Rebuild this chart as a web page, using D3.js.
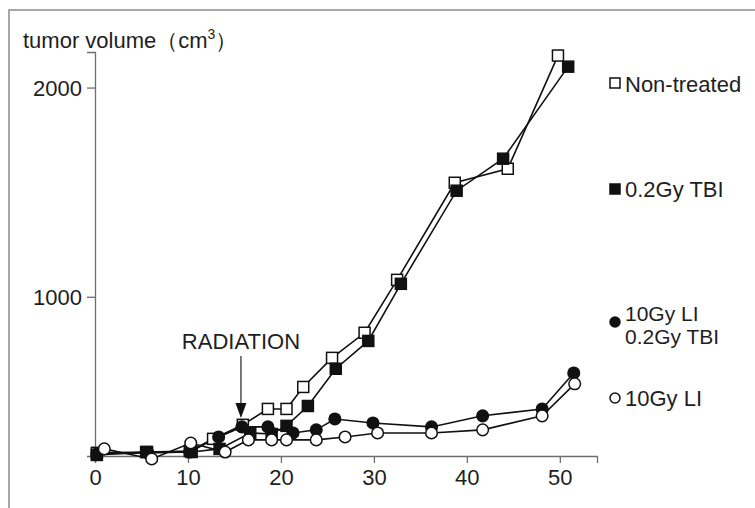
<!DOCTYPE html>
<html><head><meta charset="utf-8">
<script src="https://cdn.jsdelivr.net/npm/d3@7"></script>
<style>
html,body{margin:0;padding:0;background:#fff;}
svg{display:block;font-family:"Liberation Sans",Arial,Helvetica,sans-serif;}
</style></head>
<body>
<svg id="c" width="755" height="508"></svg>
<script>
// ---- data (day, tumor volume cm^3) ----
const nonTreatedDays = [0.2, 5.6, 10.2, 12.7, 15.9, 18.6, 20.6, 22.4, 25.5, 29.0, 32.5, 38.7, 44.4, 49.8];
const nonTreatedVals = [254, 258, 263, 321, 388, 464, 464, 569, 708, 828, 1081, 1545, 1612, 2153];

const tbiDays = [0.2, 5.5, 10.4, 13.4, 16.7, 19.0, 20.6, 22.9, 25.9, 29.4, 32.9, 38.9, 43.9, 50.9];
const tbiVals = [244, 258, 258, 273, 349, 344, 383, 478, 656, 789, 1062, 1507, 1660, 2100];

const liTbiDays = [0.2, 5.7, 10.2, 13.3, 15.8, 18.6, 21.3, 23.8, 25.8, 29.9, 36.2, 41.7, 48.1, 51.5];
const liTbiVals = [249, 254, 258, 330, 378, 378, 349, 364, 416, 397, 378, 431, 464, 636];

const liDays = [1.0, 6.1, 10.3, 14.0, 16.5, 19.0, 20.6, 23.8, 26.9, 30.4, 36.2, 41.7, 48.1, 51.6];
const liVals = [273, 225, 301, 258, 316, 316, 316, 316, 330, 349, 349, 364, 431, 584];

const xTicks = [0, 10, 20, 30, 40, 50];
const yTicks = [1000, 2000];
const seriesNames = ["Non-treated", "0.2Gy TBI", "10Gy LI\n0.2Gy TBI", "10Gy LI"];
const yTitle = "tumor volume（cm";
const annotationText = "RADIATION";
const radiationDay = 15.7;

// ---- build ----
const series = [
  {name: seriesNames[0], days: nonTreatedDays, vals: nonTreatedVals, shape: "square", filled: false},
  {name: seriesNames[1], days: tbiDays, vals: tbiVals, shape: "square", filled: true},
  {name: seriesNames[2], days: liTbiDays, vals: liTbiVals, shape: "circle", filled: true},
  {name: seriesNames[3], days: liDays, vals: liVals, shape: "circle", filled: false}
];

const svg = d3.select("#c");
const x = d3.scaleLinear().domain([0, 54]).range([95, 597]);
const y = d3.scaleLinear().domain([239, 2170]).range([456, 52]);

// frame
svg.append("path").attr("d", "M9,520 L9,10 L760,10")
  .attr("fill", "none").attr("stroke", "#8a8a8a").attr("stroke-width", 1.5);

// axes
const axisColor = "#6e6e6e";
const gx = svg.append("g").attr("transform", `translate(0,${y.range()[0]})`)
  .call(d3.axisBottom(x).tickValues(xTicks).tickFormat(d3.format("d")).tickSizeOuter(0).tickSize(7).tickPadding(6));
const gy = svg.append("g").attr("transform", `translate(${x(0)},0)`)
  .call(d3.axisLeft(y).tickValues(yTicks).tickFormat(d3.format("d")).tickSizeOuter(0).tickSize(8).tickPadding(5));
[gx, gy].forEach(g => {
  g.selectAll("path,line").attr("stroke", axisColor).attr("stroke-width", 1.3);
  g.selectAll("text").attr("font-size", 22).attr("fill", "#1e1e1e")
    .attr("font-family", "Liberation Sans, Arial, sans-serif");
});
gy.selectAll("text").attr("dy", "0.36em");

// y title
const t = svg.append("text").attr("x", 23).attr("y", 48).attr("font-size", 22).attr("fill", "#1e1e1e");
t.append("tspan").text(yTitle);
t.append("tspan").attr("dy", -9).attr("font-size", 14).text("3");
t.append("tspan").attr("dy", 9).text("）");

// lines
const line = d3.line().x(d => x(d[0])).y(d => y(d[1]));
series.forEach(s => {
  const pts = s.days.map((d, i) => [d, s.vals[i]]);
  svg.append("path").datum(pts).attr("d", line)
    .attr("fill", "none").attr("stroke", "#111").attr("stroke-width", 1.6);
});

function marker(g, shape, filled, cx, cy) {
  if (shape === "square") {
    g.append("rect").attr("x", cx - 5.5).attr("y", cy - 5.5).attr("width", 11).attr("height", 11)
      .attr("fill", filled ? "#111" : "#fff").attr("stroke", "#111").attr("stroke-width", 1.5);
  } else {
    g.append("circle").attr("cx", cx).attr("cy", cy).attr("r", 5.8)
      .attr("fill", filled ? "#111" : "#fff").attr("stroke", "#111").attr("stroke-width", 1.5);
  }
}
series.forEach(s => {
  const g = svg.append("g");
  s.days.forEach((d, i) => marker(g, s.shape, s.filled, x(d), y(s.vals[i])));
});

// annotation
const ax = x(radiationDay);
svg.append("text").attr("x", ax).attr("y", 349).attr("text-anchor", "middle")
  .attr("font-size", 22).attr("fill", "#1e1e1e").text(annotationText);
svg.append("line").attr("x1", ax).attr("x2", ax).attr("y1", 356).attr("y2", 406)
  .attr("stroke", "#222").attr("stroke-width", 1.2);
svg.append("path").attr("d", `M${ax-5.5},403 L${ax+5.5},403 L${ax},418 Z`).attr("fill", "#111");

// legend
const legendY = [83, 189, 322, 398];
const legendBase = [[92], [197], [321, 344], [406]];
series.forEach((s, i) => {
  const g = svg.append("g");
  if (s.shape === "square") {
    g.append("rect").attr("x", 610).attr("y", legendY[i] - 5).attr("width", 10).attr("height", 10)
      .attr("fill", s.filled ? "#111" : "#fff").attr("stroke", "#111").attr("stroke-width", 1.5);
  } else {
    g.append("circle").attr("cx", 615).attr("cy", legendY[i]).attr("r", 5)
      .attr("fill", s.filled ? "#111" : "#fff").attr("stroke", "#111").attr("stroke-width", 1.5);
  }
  const lines = s.name.split("\n");
  const multi = lines.length > 1;
  lines.forEach((l, j) => {
    g.append("text").attr("x", 625).attr("y", legendBase[i][j])
      .attr("font-size", multi ? 21 : 22).attr("fill", "#1e1e1e").text(l);
  });
});
</script>
</body></html>
